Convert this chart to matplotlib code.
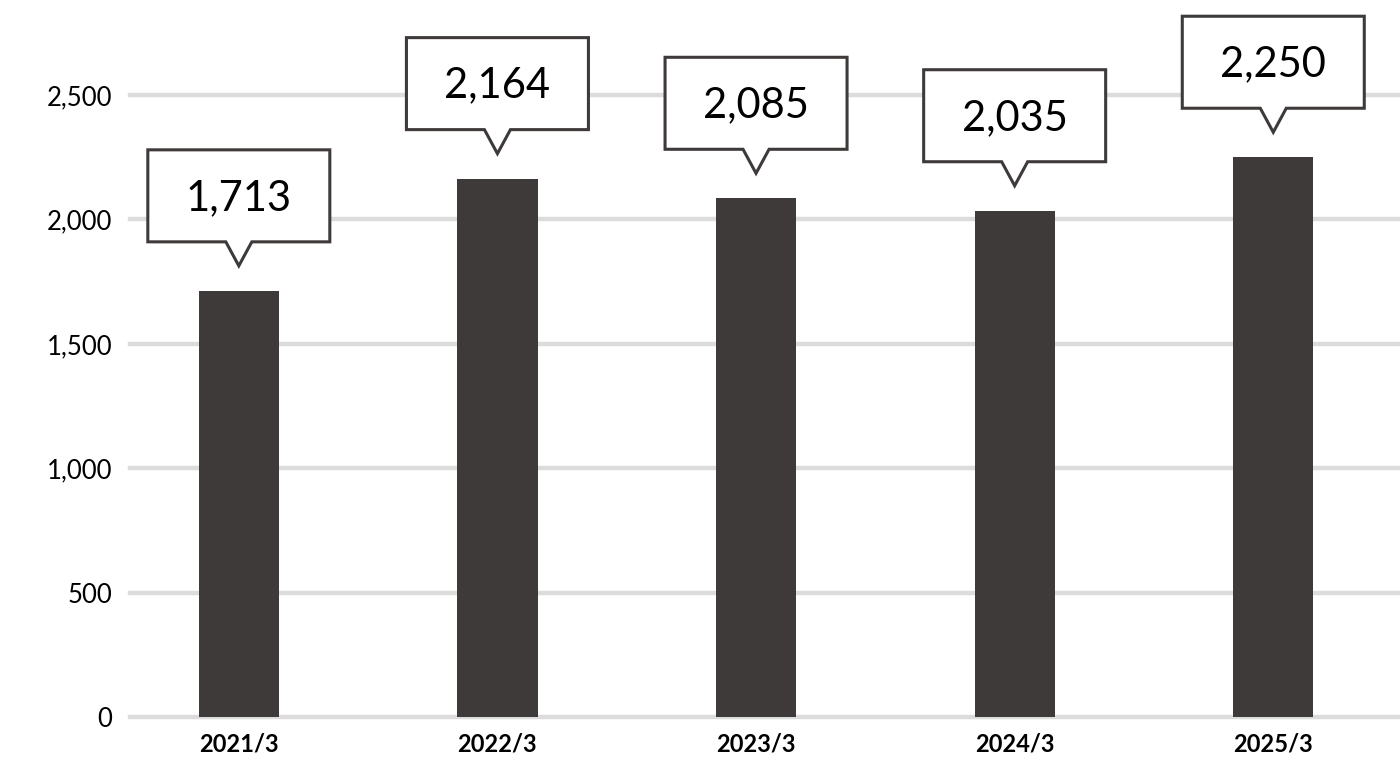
import matplotlib.pyplot as plt
from matplotlib.patches import Polygon
from matplotlib.transforms import ScaledTranslation

# data
periods = ["2021/3", "2022/3", "2023/3", "2024/3", "2025/3"]
values = [1713, 2164, 2085, 2035, 2250]
yticks = [0, 500, 1000, 1500, 2000, 2500]

bar_color = "#3e3a39"
grid_color = "#dcdcdc"

plt.rcParams["font.family"] = ["Lato", "DejaVu Sans"]

fig = plt.figure(figsize=(14, 7.78), dpi=100)
ax = fig.add_axes([0.093, 0.0784, 0.907, 0.9216])

x = list(range(len(periods)))
ax.bar(x, values, width=0.31, color=bar_color, zorder=3)

ax.set_xlim(-0.42, 4.49)
ax.set_ylim(0, 2882)
ax.set_yticks(yticks)
ax.set_yticklabels([f"{v:,}" for v in yticks], fontsize=18.5)
ax.set_xticks(x)
ax.set_xticklabels(periods, fontsize=17, fontweight="bold")
ax.tick_params(axis="both", length=0, colors="black")
ax.tick_params(axis="y", pad=13)
ax.tick_params(axis="x", pad=11)

for v in yticks:
    ax.axhline(v, color=grid_color, linewidth=3.2, zorder=1, clip_on=False)

for s in ax.spines.values():
    s.set_visible(False)

# callout boxes (shape in inches, anchored at the bar top)
gap = 0.25
bw, bh, pw, ph = 0.91, 0.92, 0.13, 0.24
shape = [(-bw, ph), (-pw, ph), (0, 0), (pw, ph), (bw, ph),
         (bw, ph + bh), (-bw, ph + bh)]
for xi, v in zip(x, values):
    trans = fig.dpi_scale_trans + ScaledTranslation(xi, v, ax.transData) \
        + ScaledTranslation(0, gap, fig.dpi_scale_trans)
    poly = Polygon(shape, closed=True, transform=trans, facecolor="white",
                   edgecolor=bar_color, linewidth=2.2, zorder=5, clip_on=False)
    ax.add_patch(poly)
    ax.text(0, ph + bh / 2 - 0.02, f"{v:,}", transform=trans, ha="center",
            va="center", fontsize=30, color="black", zorder=6)

fig.savefig("out.png", dpi=100)
